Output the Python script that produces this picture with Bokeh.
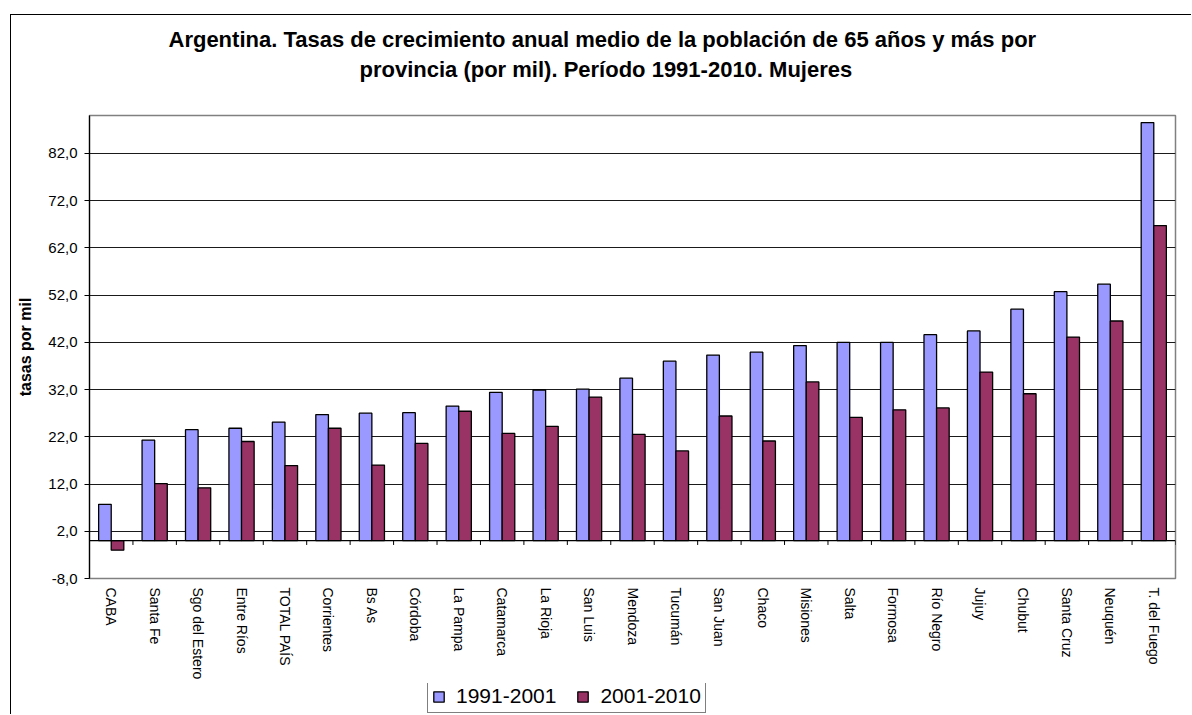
import math
from bokeh.plotting import figure
from bokeh.layouts import column
from bokeh.models import (ColumnDataSource, FactorRange, Range1d, FixedTicker, Span,
                          Legend, LegendItem, Title)
from bokeh.transform import dodge
from bokeh.embed import file_html
from bokeh.resources import INLINE

provincias = ["CABA", "Santa Fe", "Sgo del Estero", "Entre Ríos", "TOTAL  PAÍS", "Corrientes",
              "Bs As", "Córdoba", "La Pampa", "Catamarca", "La Rioja", "San Luis", "Mendoza",
              "Tucumán", "San Juan", "Chaco", "Misiones", "Salta", "Formosa", "Río Negro",
              "Jujuy", "Chubut", "Santa Cruz", "Neuquén", "T. del Fuego"]
tasa_1991_2001 = [7.7, 21.3, 23.5, 23.8, 25.1, 26.7, 27.0, 27.1, 28.5, 31.4, 31.9, 32.1, 34.4,
                  38.0, 39.3, 39.9, 41.3, 42.0, 42.0, 43.6, 44.4, 49.0, 52.7, 54.3, 88.5]
tasa_2001_2010 = [-2.0, 12.1, 11.2, 21.0, 15.9, 23.8, 16.0, 20.6, 27.4, 22.7, 24.2, 30.4, 22.5,
                  19.0, 26.4, 21.1, 33.6, 26.1, 27.7, 28.1, 35.7, 31.1, 43.1, 46.5, 66.7]
y_ticks = [-8, 2, 12, 22, 32, 42, 52, 62, 72, 82]
y_tick_labels = ["-8,0", "2,0", "12,0", "22,0", "32,0", "42,0", "52,0", "62,0", "72,0", "82,0"]
series_names = ["1991-2001", "2001-2010"]
series_colors = ["#9999FF", "#993366"]
title_lines = ["Argentina. Tasas de crecimiento anual medio de la población de 65 años y más por",
               "provincia (por mil).  Período 1991-2010. Mujeres"]
y_label = "tasas por mil"

FONT = "Liberation Sans"

src = ColumnDataSource(dict(prov=provincias, a=tasa_1991_2001, b=tasa_2001_2010,
                            zero=[0] * len(provincias), tick=[-0.9] * len(provincias)))

p = figure(x_range=FactorRange(*provincias), y_range=Range1d(-8, 90),
           width=1180, height=668, output_backend="svg", toolbar_location=None,
           min_border_left=78, min_border_right=16, min_border_top=100, min_border_bottom=105)

# spacer between the title and the plot frame
p.add_layout(Title(text=" ", text_font=FONT, text_font_size="22px", standoff=4), "above")
p.add_layout(Title(text=title_lines[1], text_font=FONT, text_font_size="22px",
                   text_font_style="bold", text_color="black", align="left", offset=270,
                   standoff=5), "above")
p.add_layout(Title(text=title_lines[0], text_font=FONT, text_font_size="22px",
                   text_font_style="bold", text_color="black", align="left", offset=79,
                   standoff=2), "above")

bar_kw = dict(bottom=0, width=0.29, source=src, line_color="black", line_width=1.3)
r1 = p.vbar(x=dodge("prov", -0.145, range=p.x_range), top="a",
            fill_color=series_colors[0], **bar_kw)
r2 = p.vbar(x=dodge("prov", 0.145, range=p.x_range), top="b",
            fill_color=series_colors[1], **bar_kw)

# baseline and category boundary ticks at zero
p.add_layout(Span(location=0, dimension="width", line_color="black", line_width=1.2))
p.segment(x0=dodge("prov", 0.5, range=p.x_range), x1=dodge("prov", 0.5, range=p.x_range),
          y0="zero", y1="tick", source=src, line_color="black", line_width=1)

p.outline_line_color = "#808080"
p.outline_line_width = 1.5

p.xgrid.grid_line_color = None
p.ygrid.ticker = FixedTicker(ticks=y_ticks)
p.ygrid.grid_line_color = "#1a1a1a"
p.ygrid.grid_line_width = 1

yax = p.yaxis[0]
yax.ticker = FixedTicker(ticks=y_ticks)
yax.major_label_overrides = {t: l for t, l in zip(y_ticks, y_tick_labels)}
yax.major_label_text_font = FONT
yax.major_label_text_font_size = "15px"
yax.major_label_text_color = "black"
yax.axis_line_color = "black"
yax.axis_line_width = 1.2
yax.major_tick_out = 5
yax.major_tick_in = 0
yax.minor_tick_line_color = None
yax.major_label_standoff = 7
yax.axis_label = y_label
yax.axis_label_text_font = FONT
yax.axis_label_text_font_size = "16px"
yax.axis_label_text_font_style = "bold"
yax.axis_label_text_color = "black"
yax.axis_label_standoff = 11

xax = p.xaxis[0]
xax.major_label_orientation = -math.pi / 2
xax.major_label_text_font = FONT
xax.major_label_text_font_size = "14px"
xax.major_label_text_color = "black"
xax.major_tick_line_color = None
xax.major_tick_out = 0
xax.major_tick_in = 0
xax.axis_line_color = None
xax.major_label_standoff = 9

# legend strip below the chart (its frame is aligned with the chart's frame)
lg = figure(width=1180, height=31, output_backend="svg", toolbar_location=None,
            x_range=FactorRange(*provincias), y_range=Range1d(-8, 90),
            x_axis_type=None, y_axis_type=None,
            min_border_left=78, min_border_right=16, min_border_top=0, min_border_bottom=0)
lg.outline_line_color = None
lg.grid.grid_line_color = None
lr1 = lg.vbar(x=dodge("prov", -0.145, range=lg.x_range), top="a",
              fill_color=series_colors[0], visible=False, **bar_kw)
lr2 = lg.vbar(x=dodge("prov", 0.145, range=lg.x_range), top="b",
              fill_color=series_colors[1], visible=False, **bar_kw)

legend = Legend(items=[LegendItem(label=series_names[0], renderers=[lr1], index=0),
                       LegendItem(label=series_names[1], renderers=[lr2], index=0)],
                orientation="horizontal", location=(338, 1))
legend.label_text_font = FONT
legend.label_text_font_size = "21px"
legend.label_text_color = "black"
legend.glyph_width = 13
legend.glyph_height = 13
legend.label_standoff = 11
legend.spacing = 20
legend.padding = 4
legend.margin = 0
legend.border_line_color = "black"
legend.border_line_width = 1
legend.background_fill_alpha = 1
legend.click_policy = "none"
lg.add_layout(legend, "center")

layout = column(p, lg, spacing=0)
layout.styles = {"border-left": "1px solid black", "border-top": "1px solid black",
                 "margin-left": "10px", "margin-top": "14px"}

open("out.html", "w").write(file_html(layout, INLINE))
